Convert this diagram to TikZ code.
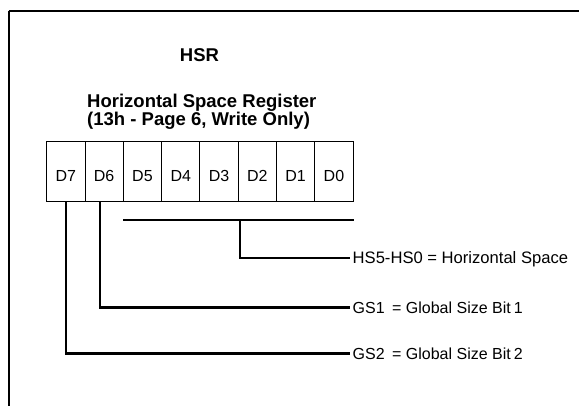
\documentclass[tikz,border=0pt]{standalone}
\usepackage{fontspec}
\setmainfont{Liberation Sans}
\begin{document}
\begin{tikzpicture}[x=1pt,y=-1pt,
  cell/.style={draw,line width=1pt,minimum width=38.3pt,minimum height=60pt,inner sep=0pt,
    text height=20pt,text depth=0pt,font=\fontsize{16}{18}\selectfont},
  conn/.style={line width=2.5pt},
  lbl/.style={anchor=west,inner sep=2.5pt,text height=11.5pt,text depth=0pt,
    font=\fontsize{16}{18}\selectfont},
  ttl/.style={anchor=base west,inner sep=0pt,font=\fontsize{18.5}{20}\selectfont\bfseries}]
\useasboundingbox (0,0) rectangle (579,405);
\clip (0,0) rectangle (579,405);
% outer frame
\draw[line width=1.7pt] (9.3,420) -- (9.3,11);
\draw[line width=2.2pt] (8.5,11) -- (600,11);
% titles
\node[anchor=base,inner sep=0pt,font=\fontsize{18.5}{20}\selectfont\bfseries] (hsr) at (199.5,61.7) {HSR};
\node[ttl] (t1) at (87,107) {Horizontal Space Register};
\node[ttl] (t2) at (87,125) {(13h - Page 6, Write Only)};
% register cells
\foreach \k/\b in {0/7,1/6,2/5,3/4,4/3,5/2,6/1,7/0}{
  \node[cell] (d\b) at (65.85+38.3*\k,171) {D\b};
}
% labels
\node[lbl,font=\fontsize{16.6}{18}\selectfont] (hs) at (350,258) {HS5-HS0 = Horizontal Space};
\node[lbl] (gs1) at (350,307.5) {GS1\hspace{3pt} = Global Size Bit\hspace{-1.5pt} 1};
\node[lbl] (gs2) at (350,353.5) {GS2\hspace{3pt} = Global Size Bit\hspace{-1.5pt} 2};
% connectors
\coordinate (busL) at (123.3,220);
\coordinate (busR) at (353.8,220);
\coordinate (busM) at (240,220);
\draw[conn] (busL) -- (busR);
\draw[conn] (busM) |- (hs.west);
\draw[conn] ([xshift=-4.15pt]d6.south) |- (gs1.west);
\draw[conn] (d7.south) |- (gs2.west);
\end{tikzpicture}
\end{document}
